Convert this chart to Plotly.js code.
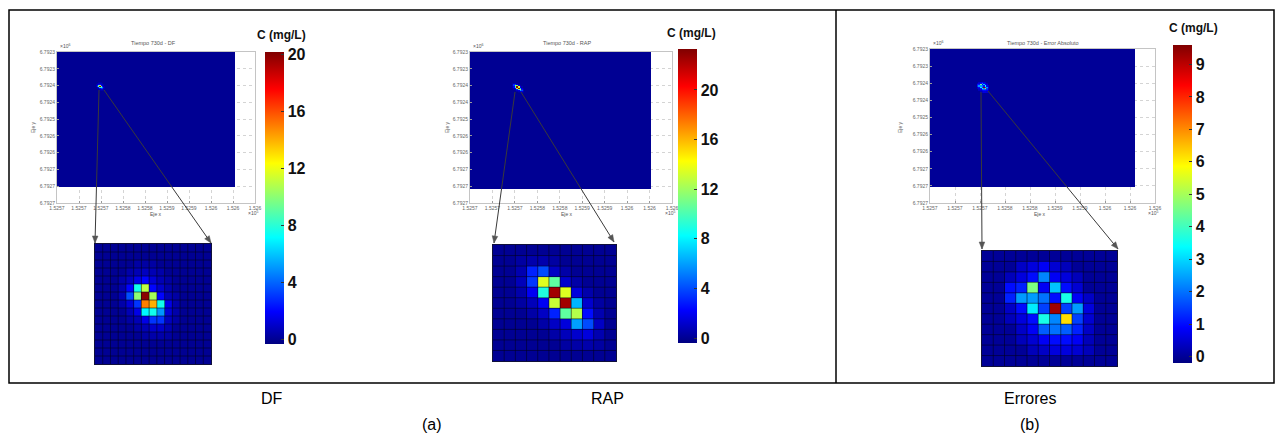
<!DOCTYPE html>
<html><head><meta charset="utf-8">
<script src="https://cdn.plot.ly/plotly-3.0.1.min.js"></script>
<style>html,body{margin:0;padding:0;background:#fff}#chart{width:1282px;height:438px}</style>
</head><body><div id="chart"></div>
<script>
// ---------------- DATA ----------------
const panelLabels = ['DF', 'RAP', 'Errores'];
const groupLabels = ['(a)', '(b)'];
const plotTitles = ['Tiempo 730d - DF', 'Tiempo 730d - RAP', 'Tiempo 730d - Error Absoluto'];
const axisNames = ['Eje x', 'Eje y'];
const xTickLabels = ['1.5257','1.5257','1.5257','1.5258','1.5258','1.5259','1.5259','1.526','1.526','1.526'];
const yTickLabels = ['6.7923','6.7923','6.7924','6.7924','6.7925','6.7926','6.7926','6.7927','6.7927','6.7927'];
const xExponent = '×10<sup>5</sup>';
const yExponent = '×10<sup>6</sup>';
const colorbarTitle = 'C (mg/L)';

const dfTicks  = [0, 4, 8, 12, 16, 20];
const rapTicks = [0, 4, 8, 12, 16, 20];
const errTicks = [0, 1, 2, 3, 4, 5, 6, 7, 8, 9];
const dfRange  = [-0.35, 20.2];
const rapRange = [-0.4, 23.3];
const errRange = [-0.2, 9.6];

// background value of the full field (mg/L) and extent of the field in tick units
const fieldValue = 0;
const dfField  = [8.1, 8.05];
const rapField = [8.07, 8.16];
const errField = [8.2, 8.07];
// plume location in tick units
const dfHotspot  = [2.0, 2.1];
const rapHotspot = [2.1, 2.14];
const errHotspot = [2.12, 2.23];

// zoomed plume concentrations (rows top -> bottom)
const dfZoom = [
 [0,0,0,0,0,0,0,0,0,0,0,0,0,0,0],
 [0,0,0,0,0,0,0,0,0,0,0,0,0,0,0],
 [0,0,0,0,0,0.3,0.3,0.3,0,0,0,0,0,0,0],
 [0,0,0,0,0.4,0.6,0.8,0.6,0.4,0,0,0,0,0,0],
 [0,0,0,0.4,0.8,1.5,2.0,1.2,0.6,0.3,0,0,0,0,0],
 [0,0,0,0.5,2.0,7.5,11.0,2.0,1.0,0.4,0,0,0,0,0],
 [0,0,0,0.6,3.5,10.0,20.0,10.5,2.0,0.6,0.3,0,0,0,0],
 [0,0,0,0.4,1.2,3.0,15.0,14.0,7.5,1.5,0.4,0,0,0,0],
 [0,0,0,0,0.6,1.5,7.0,7.5,5.0,1.2,0.4,0,0,0,0],
 [0,0,0,0,0.3,0.6,1.5,3.0,3.0,0.8,0.3,0,0,0,0],
 [0,0,0,0,0,0.3,0.6,1.0,1.0,0.5,0,0,0,0,0],
 [0,0,0,0,0,0,0.3,0.4,0.4,0.3,0,0,0,0,0],
 [0,0,0,0,0,0,0,0,0,0,0,0,0,0,0],
 [0,0,0,0,0,0,0,0,0,0,0,0,0,0,0],
 [0,0,0,0,0,0,0,0,0,0,0,0,0,0,0]
];
const rapZoom = [
 [0,0,0,0,0,0,0,0,0,0,0],
 [0,0,0.3,0.5,0.5,0.3,0,0,0,0,0],
 [0,0,0.6,3.0,4.0,1.0,0.4,0,0,0,0],
 [0,0,0.8,3.5,13.5,10.5,1.2,0.4,0,0,0],
 [0,0,0.5,2.0,9.0,22.5,13.5,1.5,0.5,0,0],
 [0,0,0.3,0.8,2.0,13.0,22.5,6.5,1.2,0.3,0],
 [0,0,0,0.4,1.0,3.0,10.5,12.5,2.5,0.6,0],
 [0,0,0,0,0.4,1.0,1.5,6.0,4.0,1.0,0],
 [0,0,0,0,0,0.4,0.8,1.2,1.5,0.6,0],
 [0,0,0,0,0,0,0.3,0.4,0.5,0.3,0],
 [0,0,0,0,0,0,0,0,0,0,0]
];
const errZoom = [
 [0,0,0,0,0,0,0,0,0,0,0,0],
 [0,0,0,0.4,0.6,0.8,0.5,0.3,0,0,0,0],
 [0,0,0.3,0.6,1.0,2.2,0.8,0.6,0.3,0,0,0],
 [0,0,1.0,1.2,4.6,0.8,2.8,1.0,0.5,0,0,0],
 [0,0,1.2,2.4,2.4,2.0,1.0,3.6,0.8,0.4,0,0],
 [0,0,0.4,1.0,3.2,1.5,9.3,1.5,2.4,0.6,0,0],
 [0,0,0.3,0.6,1.0,3.6,2.2,6.2,1.5,0.5,0,0],
 [0,0,0,0.4,0.8,1.8,2.0,1.8,1.2,0.4,0,0],
 [0,0,0,0.3,0.5,0.8,1.0,1.0,0.8,0.3,0,0],
 [0,0,0,0,0.3,0.4,0.6,0.6,0.5,0.3,0,0],
 [0,0,0,0,0,0,0,0,0,0,0,0]
];

// ---------------- LAYOUT HELPERS ----------------
const W = 1282, H = 438;
const fx = p => p / W;
const fy = p => 1 - p / H;
const jet = [[0,'#000080'],[0.111,'#0000FF'],[0.365,'#00FFFF'],[0.619,'#FFFF00'],[0.873,'#FF0000'],[1,'#800000']];
const NARROW = 'Liberation Sans Narrow, Arial Narrow, Liberation Sans, Arial, sans-serif';
const SANS = 'Liberation Sans, Arial, sans-serif';

const panels = [
  { zoom: dfZoom,  field: dfField,  hot: dfHotspot,  range: dfRange,  ticks: dfTicks,  title: plotTitles[0], label: panelLabels[0],
    top: {x:[57,255], y:[52,203]}, zbox: {x:[95,211], y:[244,364]}, cb: {x:265, y:[52,344]}, cbTitle: [281, 35],
    tails: [[99,90],[104,90]], heads: [[95,243],[211,243]], span: 0.8, labelX: 272,
    eyx: 33, exX: 156, t: [153, 43] },
  { zoom: rapZoom, field: rapField, hot: rapHotspot, range: rapRange, ticks: rapTicks, title: plotTitles[1], label: panelLabels[1],
    top: {x:[470,672], y:[52,203]}, zbox: {x:[493,616], y:[245,361]}, cb: {x:678, y:[49,343]}, cbTitle: [691, 33],
    tails: [[515,92],[521,92]], heads: [[494,243],[614,242]], span: 0.75, labelX: 607,
    eyx: 447, exX: 567, t: [567, 43] },
  { zoom: errZoom, field: errField, hot: errHotspot, range: errRange, ticks: errTicks, title: plotTitles[2], label: panelLabels[2],
    top: {x:[930,1155], y:[49,203]}, zbox: {x:[982,1117], y:[251,366]}, cb: {x:1173, y:[45,363]}, cbTitle: [1193, 28],
    tails: [[981,92],[988,91]], heads: [[982,249],[1118,249]], span: 0.75, labelX: 1030,
    eyx: 900, exX: 1040, t: [1043, 43] }
];

const data = [];
const layout = {
  width: W, height: H,
  margin: {l:0, r:0, t:0, b:0, pad:0},
  paper_bgcolor: '#ffffff',
  plot_bgcolor: 'rgba(0,0,0,0)',
  showlegend: false,
  annotations: [],
  shapes: []
};

const tickIdx = xTickLabels.map((_, i) => i);

panels.forEach((p, k) => {
  const n = 2 * k + 1;
  const xt = 'x' + n, yt = 'y' + n, xz = 'x' + (n + 1), yz = 'y' + (n + 1);
  const ca = k === 0 ? 'coloraxis' : 'coloraxis' + (k + 1);
  const nrow = p.zoom.length, ncol = p.zoom[0].length;

  // full field background
  data.push({ type: 'heatmap', xaxis: xt, yaxis: yt, coloraxis: ca, hoverinfo: 'skip',
    z: [[fieldValue]], x: [0, p.field[0]], y: [0, p.field[1]] });
  // plume in the full field
  const dx = p.span / ncol, dy = p.span / nrow;
  data.push({ type: 'heatmap', xaxis: xt, yaxis: yt, coloraxis: ca, hoverinfo: 'skip',
    z: p.zoom, x0: p.hot[0] - p.span / 2 + dx / 2, dx: dx, y0: p.hot[1] - p.span / 2 + dy / 2, dy: dy });
  // zoom
  data.push({ type: 'heatmap', xaxis: xz, yaxis: yz, coloraxis: ca, hoverinfo: 'skip', z: p.zoom });

  const topAxisCommon = {
    showgrid: true, gridcolor: '#d4d4d4', griddash: 'dot', gridwidth: 1, zeroline: false,
    showline: true, mirror: true, linecolor: '#c4c4c4', linewidth: 1,
    ticks: 'inside', ticklen: 2, tickcolor: '#999', tickmode: 'array', tickvals: tickIdx,
    tickfont: {family: SANS, size: 5, color: '#666'}, fixedrange: true
  };
  layout['xaxis' + n] = Object.assign({}, topAxisCommon, {
    domain: [fx(p.top.x[0]), fx(p.top.x[1])], anchor: yt, range: [0, 9], ticktext: xTickLabels });
  layout['yaxis' + n] = Object.assign({}, topAxisCommon, {
    domain: [fy(p.top.y[1]), fy(p.top.y[0])], anchor: xt, range: [9, 0], ticktext: yTickLabels });

  layout['xaxis' + (n + 1)] = { domain: [fx(p.zbox.x[0]), fx(p.zbox.x[1])], anchor: yz,
    range: [-0.5, ncol - 0.5], showgrid: false, zeroline: false, showticklabels: false, ticks: '',
    showline: true, mirror: true, linecolor: '#10103a', linewidth: 1, fixedrange: true };
  layout['yaxis' + (n + 1)] = { domain: [fy(p.zbox.y[1]), fy(p.zbox.y[0])], anchor: xz,
    range: [nrow - 0.5, -0.5], showgrid: false, zeroline: false, showticklabels: false, ticks: '',
    showline: true, mirror: true, linecolor: '#10103a', linewidth: 1, fixedrange: true };

  // cell edges of the zoomed grid
  const edge = {color: 'rgba(0,0,25,0.55)', width: 1};
  for (let c = 1; c < ncol; c++) layout.shapes.push({ type: 'line', xref: xz, yref: yz, layer: 'above',
    x0: c - 0.5, x1: c - 0.5, y0: -0.5, y1: nrow - 0.5, line: edge });
  for (let r = 1; r < nrow; r++) layout.shapes.push({ type: 'line', xref: xz, yref: yz, layer: 'above',
    x0: -0.5, x1: ncol - 0.5, y0: r - 0.5, y1: r - 0.5, line: edge });

  layout[ca] = {
    colorscale: jet, cmin: p.range[0], cmax: p.range[1],
    colorbar: {
      x: fx(p.cb.x), xanchor: 'left', y: fy((p.cb.y[0] + p.cb.y[1]) / 2), yanchor: 'middle',
      len: p.cb.y[1] - p.cb.y[0], lenmode: 'pixels', thickness: 19, thicknessmode: 'pixels',
      xpad: 0, ypad: 0, outlinewidth: 0, borderwidth: 0,
      tickmode: 'array', tickvals: p.ticks, ticks: 'inside', ticklen: 3, tickwidth: 1, tickcolor: '#333',
      tickfont: {family: NARROW, size: 16, color: '#111', weight: 'bold'}
    }
  };

  const ann = (x, y, text, size, extra) => layout.annotations.push(Object.assign({
    xref: 'paper', yref: 'paper', x: fx(x), y: fy(y), text: text, showarrow: false,
    xanchor: 'center', yanchor: 'middle', font: {family: SANS, size: size, color: '#555'}
  }, extra || {}));

  ann(p.t[0], p.t[1], p.title, 5.5);
  ann(p.top.x[0] + 1, p.top.y[0] - 6, yExponent, 5, {xanchor: 'left'});
  ann(p.top.x[1] - 2, 213, xExponent, 5);
  ann(p.exX, 214, axisNames[0], 5);
  ann(p.eyx, 127, axisNames[1], 5, {textangle: -90});
  ann(p.cbTitle[0], p.cbTitle[1], '<b>' + colorbarTitle + '</b>', 12, {font: {family: SANS, size: 12, color: '#111'}});
  ann(p.labelX, 398, p.label, 16, {font: {family: NARROW, size: 16, color: '#000'}});

  // arrows from the plume to the zoom window (line + head)
  for (let j = 0; j < 2; j++) {
    const h = p.heads[j], t = p.tails[j];
    layout.shapes.push({ type: 'line', xref: 'paper', yref: 'paper', layer: 'above',
      x0: fx(t[0]), y0: fy(t[1]), x1: fx(h[0]), y1: fy(h[1]), line: {color: '#3a3a3a', width: 1} });
    const L = Math.hypot(h[0] - t[0], h[1] - t[1]);
    const ux = (h[0] - t[0]) / L, uy = (h[1] - t[1]) / L;
    const a = [h[0] - 7 * ux + 2.8 * uy, h[1] - 7 * uy - 2.8 * ux];
    const b = [h[0] - 7 * ux - 2.8 * uy, h[1] - 7 * uy + 2.8 * ux];
    layout.shapes.push({ type: 'path', xref: 'paper', yref: 'paper', layer: 'above',
      path: `M ${fx(h[0])} ${fy(h[1])} L ${fx(a[0])} ${fy(a[1])} L ${fx(b[0])} ${fy(b[1])} Z`,
      fillcolor: '#555', line: {color: '#555', width: 0.5} });
  }
});

// group labels
[[432, groupLabels[0]], [1030, groupLabels[1]]].forEach(g => layout.annotations.push({
  xref: 'paper', yref: 'paper', x: fx(g[0]), y: fy(424), text: g[1], showarrow: false,
  xanchor: 'center', yanchor: 'middle', font: {family: NARROW, size: 16, color: '#000'} }));

// outer frame and divider
layout.shapes.push({ type: 'rect', xref: 'paper', yref: 'paper', layer: 'above',
  x0: fx(9), x1: fx(1274), y0: fy(383), y1: fy(10), line: {color: '#000', width: 1.5}, fillcolor: 'rgba(0,0,0,0)' });
layout.shapes.push({ type: 'line', xref: 'paper', yref: 'paper', layer: 'above',
  x0: fx(836), x1: fx(836), y0: fy(383), y1: fy(10), line: {color: '#000', width: 1.5} });

Plotly.newPlot('chart', data, layout, {staticPlot: true, displayModeBar: false});
</script>
</body></html>
